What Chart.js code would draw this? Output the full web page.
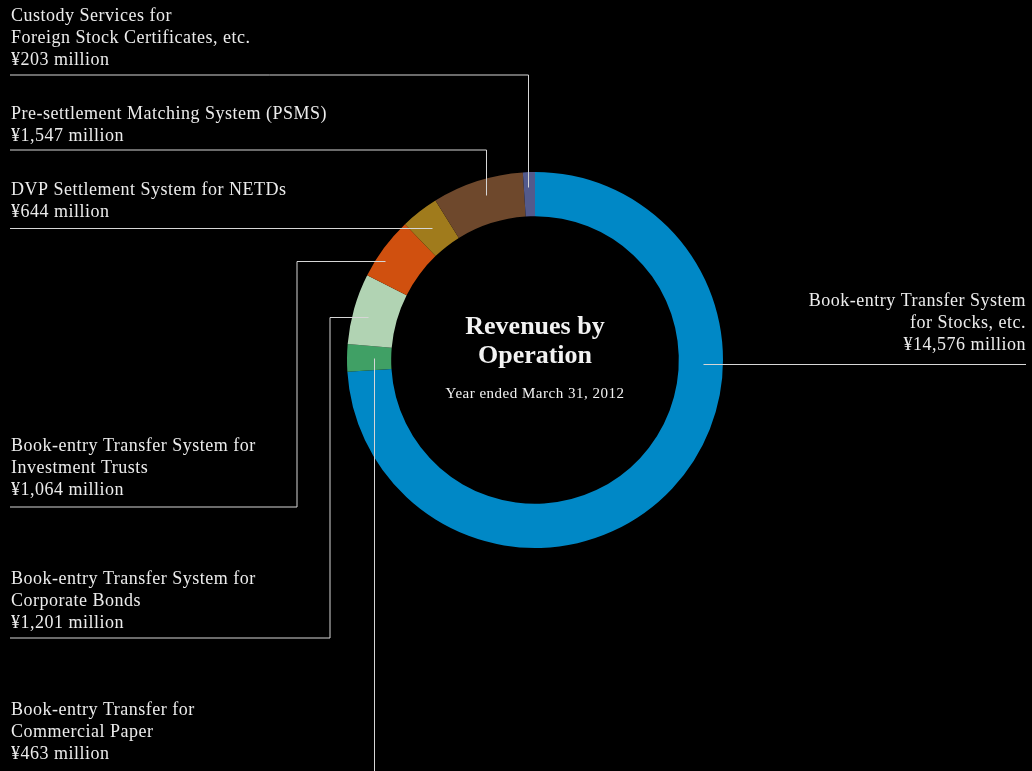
<!DOCTYPE html>
<html>
<head>
<meta charset="utf-8">
<title>Revenues by Operation</title>
<script src="https://cdn.jsdelivr.net/npm/chart.js@4.4.0/dist/chart.umd.min.js"></script>
<style>
  html, body { margin: 0; padding: 0; background: #000; }
  #wrap { position: relative; width: 1032px; height: 771px; }
</style>
</head>
<body>
<div id="wrap"><canvas id="revChart"></canvas></div>
<script>
// Data (clockwise from 12 o'clock)
const categories = [
    ['Book-entry Transfer System', 'for Stocks, etc.'],
    ['Book-entry Transfer for', 'Commercial Paper'],
    ['Book-entry Transfer System for', 'Corporate Bonds'],
    ['Book-entry Transfer System for', 'Investment Trusts'],
    ['DVP Settlement System for NETDs'],
    ['Pre-settlement Matching System (PSMS)'],
    ['Custody Services for', 'Foreign Stock Certificates, etc.']
];
const revenues = [14576, 463, 1201, 1064, 644, 1547, 203];
const sliceColors = ['#0088c6', '#40a065', '#b1d3b3', '#d0500f', '#a07b1c', '#6e482c', '#535a8c'];

const title = ['Revenues by', 'Operation'];
const subtitle = 'Year ended March 31, 2012';

const W = 1032, H = 771;
const TEXT_FONT = '18px "Liberation Serif", serif';
const LINE_H = 22;

// Callout layout: where on the slice the leader starts, route, and text placement
const callouts = [
    { frac: 0.343, r: 168, route: p => [[p.x, p.y], [1026, p.y]], tx: 1026, ty: 301, align: 'right' },
    { frac: 0.52, r: 161, route: p => [[p.x, p.y], [p.x, H]], tx: 11, ty: 710, align: 'left' },
    { frac: 0.436, r: 172, route: p => [[p.x, p.y], [330, p.y], [330, 638], [10, 638]], tx: 11, ty: 579, align: 'left' },
    { frac: 0.34, r: 180, route: p => [[p.x, p.y], [297, p.y], [297, 507], [10, 507]], tx: 11, ty: 446, align: 'left' },
    { frac: 0.5, r: 167, route: p => [[p.x, p.y], [10, p.y]], tx: 11, ty: 190, align: 'left' },
    { frac: 0.55, r: 172, route: p => [[p.x, p.y], [p.x, 150], [10, 150]], tx: 11, ty: 114, align: 'left' },
    { frac: 0.38, r: 173, route: p => [[p.x, p.y], [p.x, 75], [10, 75]], tx: 11, ty: 16, align: 'left' }
];

const calloutPlugin = {
    id: 'callouts',
    afterDraw(chart) {
        const ctx = chart.ctx;
        const arcs = chart.getDatasetMeta(0).data;
        ctx.save();

        // leader lines
        ctx.strokeStyle = '#d6d6d6';
        ctx.lineWidth = 1;
        arcs.forEach((arc, i) => {
            const c = callouts[i];
            const a = arc.startAngle + c.frac * (arc.endAngle - arc.startAngle);
            const p = { x: Math.round(arc.x + c.r * Math.cos(a)) + 0.5, y: Math.round(arc.y + c.r * Math.sin(a)) + 0.5 };
            const pts = c.route(p);
            ctx.beginPath();
            pts.forEach((pt, k) => k ? ctx.lineTo(pt[0], pt[1]) : ctx.moveTo(pt[0], pt[1]));
            ctx.stroke();
        });

        // label text
        ctx.fillStyle = '#ececec';
        ctx.font = TEXT_FONT;
        ctx.letterSpacing = '0.5px';
        ctx.textBaseline = 'middle';
        categories.forEach((lines, i) => {
            const c = callouts[i];
            ctx.textAlign = c.align;
            const all = lines.concat(['¥' + revenues[i].toLocaleString('en-US') + ' million']);
            all.forEach((t, k) => ctx.fillText(t, c.tx, c.ty + k * LINE_H));
        });

        // center title
        const cx = arcs[0].x, cy = arcs[0].y;
        ctx.textAlign = 'center';
        ctx.fillStyle = '#f2f2f2';
        ctx.letterSpacing = '0px';
        ctx.font = 'bold 26px "Liberation Serif", serif';
        ctx.fillText(title[0], cx, cy - 33);
        ctx.fillText(title[1], cx, cy - 4);
        ctx.letterSpacing = '0.5px';
        ctx.font = '15px "Liberation Serif", serif';
        ctx.fillText(subtitle, cx, cy + 34);
        ctx.restore();
    }
};

new Chart(document.getElementById('revChart'), {
    type: 'doughnut',
    data: {
        labels: categories.map(l => l.join(' ')),
        datasets: [{
            data: revenues,
            backgroundColor: sliceColors,
            borderWidth: 0
        }]
    },
    options: {
        responsive: true,
        maintainAspectRatio: false,
        animation: false,
        cutout: '76.5%',
        layout: { padding: { left: 347, right: 309, top: 172, bottom: 223 } },
        plugins: {
            legend: { display: false },
            tooltip: { enabled: false }
        }
    },
    plugins: [calloutPlugin]
});
</script>
</body>
</html>
